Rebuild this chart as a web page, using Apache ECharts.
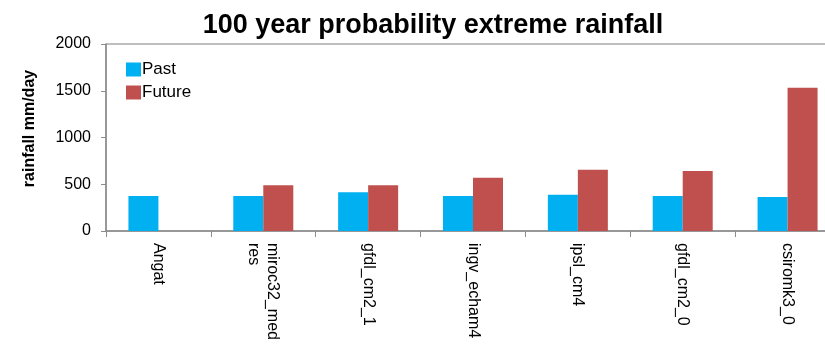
<!DOCTYPE html>
<html>
<head>
<meta charset="utf-8">
<script src="https://cdn.jsdelivr.net/npm/echarts@6/dist/echarts.min.js"></script>
<style>
  html, body { margin: 0; padding: 0; background: #fff; }
  #chart { width: 825px; height: 348px; }
</style>
</head>
<body>
<div id="chart"></div>
<script>
// Model / station names along the category axis
const categories = ['Angat', 'miroc32_med\nres', 'gfdl_cm2_1', 'ingv_echam4', 'ipsl_cm4', 'gfdl_cm2_0', 'csiromk3_0'];
// 100-year return level of daily rainfall (mm/day)
const pastValues = [374, 374, 414, 374, 388, 374, 364];
const futureValues = [null, 489, 489, 570, 656, 642, 1533];
const yTicks = [0, 500, 1000, 1500, 2000];

const chart = echarts.init(document.getElementById('chart'));
const font = 'Liberation Sans, Arial, sans-serif';

chart.setOption({
  animation: false,
  title: {
    text: '100 year probability extreme rainfall',
    left: 428, top: 7, textAlign: 'center',
    textStyle: { fontFamily: font, fontSize: 27, fontWeight: 'bold', color: '#000' }
  },
  legend: {
    left: 121, top: 56, orient: 'vertical', itemGap: 6,
    itemWidth: 15, itemHeight: 14, icon: 'rect',
    textStyle: { fontFamily: font, fontSize: 17, color: '#000', padding: [0, 0, 0, -4] },
    data: ['Past', 'Future']
  },
  grid: {
    left: 106, top: 44, width: 734, height: 187,
    outerBoundsMode: 'none', containLabel: false,
    show: true, borderColor: '#7f7f7f', borderWidth: 1, backgroundColor: 'transparent'
  },
  xAxis: {
    type: 'category',
    data: categories,
    axisLine: { lineStyle: { color: '#8c8c8c', width: 1.5 } },
    axisTick: { show: true, length: 6, alignWithLabel: false, lineStyle: { color: '#8c8c8c' } },
    axisLabel: {
      rotate: -90, interval: 0, margin: 12, color: '#000',
      fontFamily: font, fontSize: 16, lineHeight: 19
    }
  },
  yAxis: {
    type: 'value', min: 0, max: 2000, interval: 500,
    name: 'rainfall mm/day', nameLocation: 'middle', nameGap: 68, nameRotate: 90,
    nameTextStyle: { fontFamily: font, fontSize: 16, fontWeight: 'bold', color: '#000', padding: [0, 0, 0, 18] },
    axisLine: { show: true, lineStyle: { color: '#8c8c8c', width: 1.5 } },
    axisTick: { show: true, length: 5, lineStyle: { color: '#8c8c8c' } },
    axisLabel: {
      color: '#000', fontFamily: font, fontSize: 16, margin: 15,
      formatter: v => yTicks.includes(v) ? String(v) : ''
    },
    splitLine: { show: false }
  },
  series: [
    {
      name: 'Past', type: 'bar', data: pastValues,
      barWidth: 30, barGap: '0%',
      itemStyle: { color: '#00b0f0' }
    },
    {
      name: 'Future', type: 'bar', data: futureValues,
      barWidth: 30, barGap: '0%',
      itemStyle: { color: '#c0504d' }
    }
  ]
});
</script>
</body>
</html>
